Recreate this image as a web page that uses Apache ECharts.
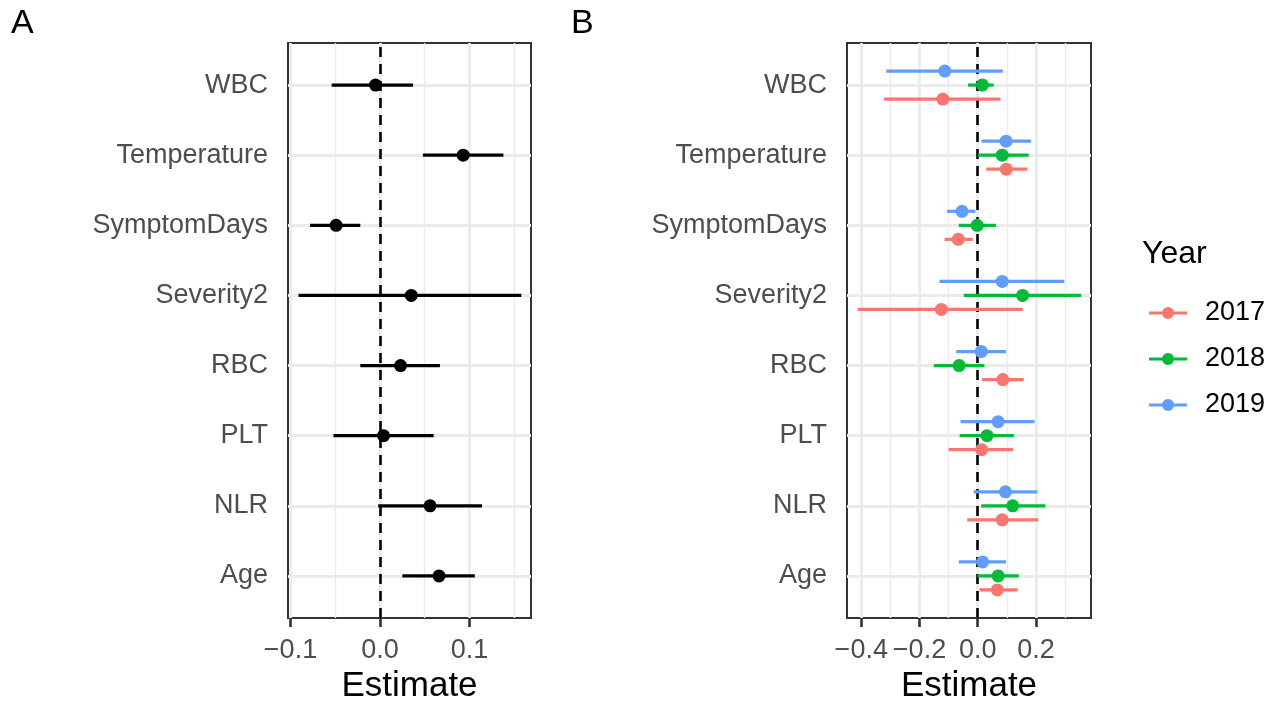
<!DOCTYPE html>
<html>
<head>
<meta charset="utf-8">
<script src="https://cdn.jsdelivr.net/npm/echarts@6/dist/echarts.min.js"></script>
<style>
html,body{margin:0;padding:0;background:#fff;}
#chart{width:1287px;height:704px;}
</style>
</head>
<body>
<div id="chart"></div>
<script>
// Categories, bottom to top (y = 1..8)
const categories = ['Age', 'NLR', 'PLT', 'RBC', 'Severity2', 'SymptomDays', 'Temperature', 'WBC'];

// Panel A: overall estimates with confidence limits
const estA = [0.066, 0.056, 0.004, 0.023, 0.035, -0.049, 0.093, -0.005];
const loA  = [0.025, -0.002, -0.052, -0.022, -0.091, -0.078, 0.048, -0.054];
const hiA  = [0.106, 0.114, 0.060, 0.067, 0.158, -0.022, 0.138, 0.037];

// Panel B: estimates by year
const years = ['2017', '2018', '2019'];
const est2017 = [0.067, 0.084, 0.013, 0.086, -0.125, -0.067, 0.098, -0.120];
const lo2017  = [0.006, -0.036, -0.100, 0.015, -0.412, -0.114, 0.029, -0.322];
const hi2017  = [0.137, 0.207, 0.121, 0.158, 0.154, -0.017, 0.170, 0.078];
const est2018 = [0.070, 0.120, 0.032, -0.064, 0.154, -0.002, 0.084, 0.016];
const lo2018  = [-0.001, 0.012, -0.062, -0.151, -0.048, -0.065, 0.001, -0.033];
const hi2018  = [0.141, 0.232, 0.124, 0.023, 0.355, 0.063, 0.175, 0.055];
const est2019 = [0.017, 0.095, 0.070, 0.012, 0.084, -0.054, 0.097, -0.113];
const lo2019  = [-0.065, -0.014, -0.059, -0.074, -0.131, -0.105, 0.013, -0.314];
const hi2019  = [0.097, 0.204, 0.195, 0.097, 0.297, -0.008, 0.183, 0.086];

// Axis ticks
const xTicksA = [-0.1, 0.0, 0.1];
const xMinorA = [-0.05, 0.05, 0.15];
const xTicksB = [-0.4, -0.2, 0.0, 0.2];
const xMinorB = [-0.3, -0.1, 0.1, 0.3];
const yTicks = [1, 2, 3, 4, 5, 6, 7, 8];

const yearColors = ['#F8766D', '#00BA38', '#619CFF'];
const FONT = 'Liberation Sans, Arial, Helvetica, sans-serif';

const chart = echarts.init(document.getElementById('chart'), null, {renderer: 'canvas'});

function fmtX(v) {
  const s = Math.abs(v).toFixed(1);
  return (v < -1e-9 ? '\u2212' : '') + s;
}

function errBarSeries(name, gridIdx, data, color) {
  return {
    type: 'custom', name: name,
    xAxisIndex: gridIdx, yAxisIndex: gridIdx,
    z: 4, silent: true, animation: false,
    itemStyle: {color: color},
    encode: {x: [0, 1], y: 2},
    data: data,
    renderItem: function (params, api) {
      const y = api.value(2);
      const p1 = api.coord([api.value(0), y]);
      const p2 = api.coord([api.value(1), y]);
      return {
        type: 'line',
        shape: {x1: p1[0], y1: p1[1], x2: p2[0], y2: p2[1]},
        style: {stroke: color, lineWidth: 3.2}
      };
    }
  };
}

function pointSeries(name, gridIdx, data, color) {
  return {
    type: 'scatter', name: name,
    xAxisIndex: gridIdx, yAxisIndex: gridIdx,
    z: 5, silent: true, animation: false,
    symbol: 'circle', symbolSize: 13,
    itemStyle: {color: color, opacity: 1},
    data: data
  };
}

function gridSeries(gridIdx, majors, minors) {
  const d = [];
  yTicks.forEach(v => d.push({yAxis: v, lineStyle: {color: '#EBEBEB', width: 2.8, type: 'solid'}}));
  minors.forEach(v => d.push({xAxis: v, lineStyle: {color: '#EBEBEB', width: 1.4, type: 'solid'}}));
  majors.forEach(v => d.push({xAxis: v, lineStyle: {color: '#EBEBEB', width: 2.8, type: 'solid'}}));
  return {
    type: 'line', xAxisIndex: gridIdx, yAxisIndex: gridIdx, data: [],
    z: 1, silent: true, animation: false,
    markLine: {z: 1, silent: true, symbol: ['none', 'none'], label: {show: false}, animation: false, data: d}
  };
}

function zeroLine(gridIdx) {
  return {
    type: 'line', xAxisIndex: gridIdx, yAxisIndex: gridIdx, data: [],
    z: 2, silent: true, animation: false,
    markLine: {
      z: 2, silent: true, symbol: ['none', 'none'], label: {show: false}, animation: false,
      lineStyle: {color: '#000', width: 2.6, type: [10, 7]},
      data: [{xAxis: 0}]
    }
  };
}

function xAxisCfg(gridIdx, min, max, ticks) {
  return {
    type: 'value', gridIndex: gridIdx, min: min, max: max,
    splitLine: {show: false},
    axisLine: {show: false},
    axisTick: {show: true, length: 9, customValues: ticks, lineStyle: {color: '#333333', width: 2.6}},
    axisLabel: {show: true, customValues: ticks, formatter: fmtX, color: '#4D4D4D',
      fontSize: 27, fontFamily: FONT, margin: 19},
    name: 'Estimate', nameLocation: 'middle', nameGap: 50,
    nameTextStyle: {color: '#000', fontSize: 35, fontFamily: FONT}
  };
}

function yAxisCfg(gridIdx) {
  return {
    type: 'value', gridIndex: gridIdx, min: 0.4, max: 8.6,
    splitLine: {show: false},
    axisLine: {show: false},
    axisTick: {show: true, length: 9, customValues: yTicks, lineStyle: {color: '#333333', width: 2.6}},
    axisLabel: {show: true, customValues: yTicks, color: '#4D4D4D', fontSize: 27, fontFamily: FONT, margin: 20,
      formatter: v => categories[Math.round(v) - 1]}
  };
}

const series = [];
series.push(gridSeries(0, xTicksA, xMinorA));
series.push(gridSeries(1, xTicksB, xMinorB));
series.push(zeroLine(0));
series.push(zeroLine(1));

// Panel A
series.push(errBarSeries('overall', 0, categories.map((c, i) => [loA[i], hiA[i], i + 1]), '#000'));
series.push(pointSeries('overall', 0, categories.map((c, i) => [estA[i], i + 1]), '#000'));

// Panel B (dodged by year)
const estB = [est2017, est2018, est2019];
const loB = [lo2017, lo2018, lo2019];
const hiB = [hi2017, hi2018, hi2019];
const dodge = [-0.2, 0, 0.2];
years.forEach((yr, k) => {
  series.push(errBarSeries(yr, 1, categories.map((c, i) => [loB[k][i], hiB[k][i], i + 1 + dodge[k]]), yearColors[k]));
});
years.forEach((yr, k) => {
  series.push(pointSeries(yr, 1, categories.map((c, i) => [estB[k][i], i + 1 + dodge[k]]), yearColors[k]));
});

const legendIcon = 'path://M0,4.6 L38,4.6 L38,7.4 L0,7.4 Z M25,6 A6,6 0 1,1 13,6 A6,6 0 1,1 25,6 Z';

const option = {
  backgroundColor: '#ffffff',
  animation: false,
  grid: [
    {left: 288, top: 43, width: 243, height: 575, show: true, borderColor: '#333333', borderWidth: 2, backgroundColor: '#fff', containLabel: false, outerBoundsMode: 'none'},
    {left: 847, top: 43, width: 244, height: 575, show: true, borderColor: '#333333', borderWidth: 2, backgroundColor: '#fff', containLabel: false, outerBoundsMode: 'none'}
  ],
  xAxis: [
    xAxisCfg(0, -0.1028, 0.1688, xTicksA),
    xAxisCfg(1, -0.449, 0.389, xTicksB)
  ],
  yAxis: [yAxisCfg(0), yAxisCfg(1)],
  legend: {
    show: true, orient: 'vertical', left: 1144, top: 293,
    itemWidth: 38, itemHeight: 12, itemGap: 16,
    selectedMode: false,
    data: years.map((y, k) => ({name: y, icon: legendIcon, itemStyle: {color: yearColors[k]}})),
    textStyle: {color: '#000', fontSize: 27, fontFamily: FONT, lineHeight: 30, padding: [0, 0, 0, 13]}
  },
  graphic: [
    {type: 'text', left: 11, top: 7, style: {text: 'A', fontSize: 34, fontFamily: FONT, fill: '#000'}},
    {type: 'text', left: 571, top: 7, style: {text: 'B', fontSize: 34, fontFamily: FONT, fill: '#000'}},
    {type: 'text', left: 1142, top: 238, style: {text: 'Year', fontSize: 32, fontFamily: FONT, fill: '#000'}}
  ],
  series: series
};

chart.setOption(option);
</script>
</body>
</html>
